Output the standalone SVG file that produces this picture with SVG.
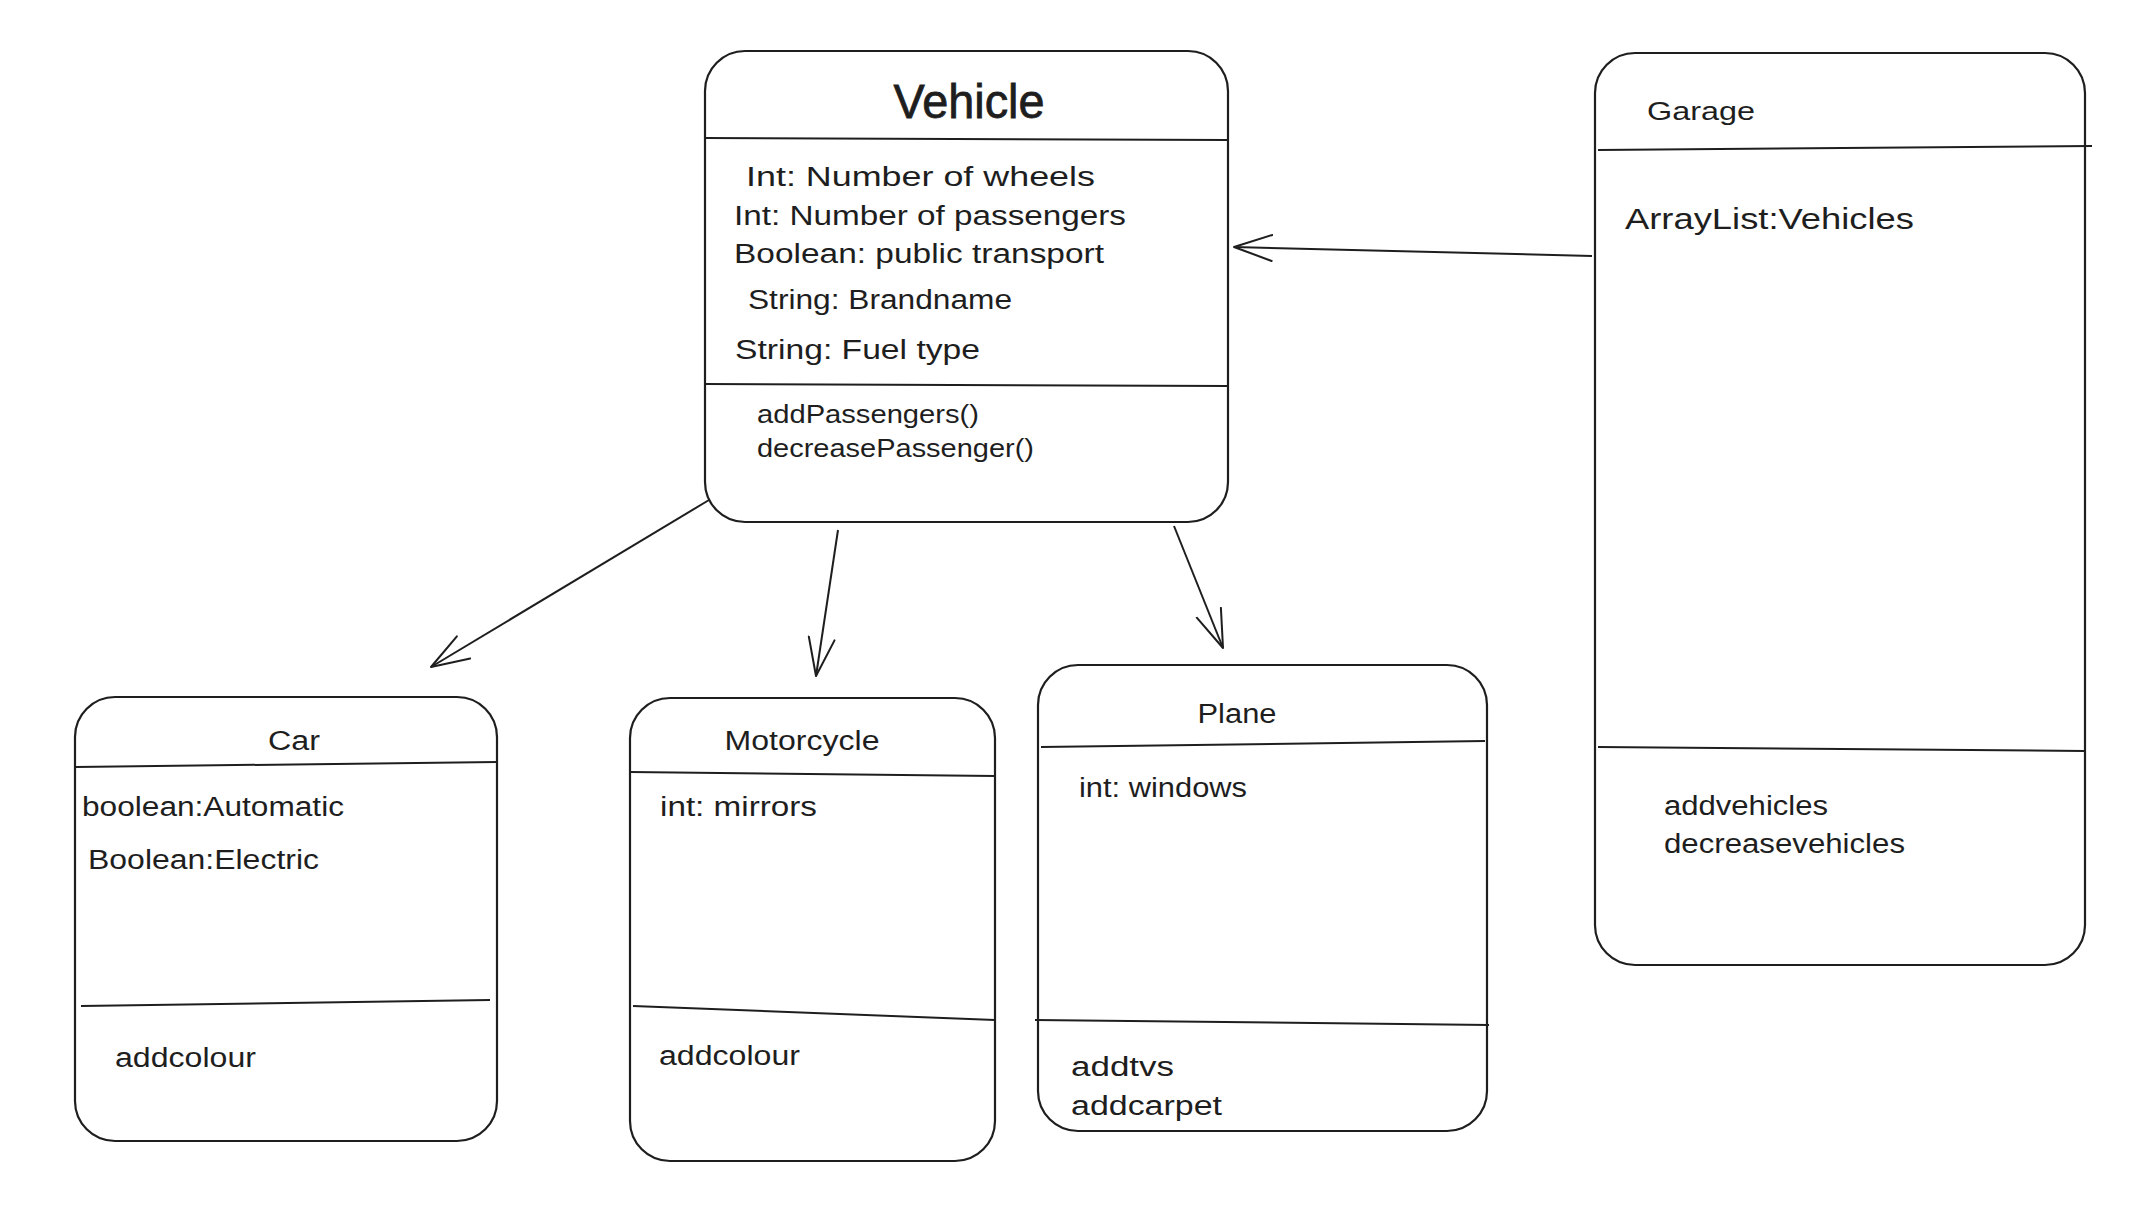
<svg xmlns="http://www.w3.org/2000/svg" width="2147" height="1224" viewBox="0 0 2147 1224">
  <defs>
    <style>
      .box { fill: #ffffff; stroke: #1e1e1e; stroke-width: 2.2; }
      .div { stroke: #1e1e1e; stroke-width: 2; fill: none; }
      .conn { stroke: #1e1e1e; stroke-width: 2; fill: none; }
      text { font-family: "Liberation Sans", "DejaVu Sans", sans-serif; fill: #1e1e1e; }
      .t { font-size: 27px; }
      .m { font-size: 26px; }
    </style>
    <marker id="arr" viewBox="0 0 40 30" refX="39" refY="15" markerWidth="40" markerHeight="30" markerUnits="userSpaceOnUse" orient="auto">
      <path d="M1,2 L39,15 L1,28" fill="none" stroke="#1e1e1e" stroke-width="2" stroke-linejoin="round" stroke-linecap="round"/>
    </marker>
  </defs>
  <rect width="2147" height="1224" fill="#ffffff"/>

  <g id="connectors">
    <path class="conn" d="M709,500 L431,667" marker-end="url(#arr)"/>
    <path class="conn" d="M838,530 L816,676" marker-end="url(#arr)"/>
    <path class="conn" d="M1174,526 L1223,648" marker-end="url(#arr)"/>
    <path class="conn" d="M1592,256 L1234,247" marker-end="url(#arr)"/>
  </g>

  <g id="vehicle">
    <rect class="box" x="705" y="51" width="523" height="471" rx="40"/>
    <line class="div" x1="705" y1="138" x2="1228" y2="140"/>
    <line class="div" x1="705" y1="384" x2="1228" y2="386"/>
    <text x="969" y="118" text-anchor="middle" font-size="48" stroke="#1e1e1e" stroke-width="0.8" textLength="151" lengthAdjust="spacingAndGlyphs">Vehicle</text>
    <text class="t" x="746" y="186" textLength="349" lengthAdjust="spacingAndGlyphs">Int: Number of wheels</text>
    <text class="t" x="734" y="225" textLength="392" lengthAdjust="spacingAndGlyphs">Int: Number of passengers</text>
    <text class="t" x="734" y="263" textLength="370" lengthAdjust="spacingAndGlyphs">Boolean: public transport</text>
    <text class="t" x="748" y="309" textLength="264" lengthAdjust="spacingAndGlyphs">String: Brandname</text>
    <text class="t" x="735" y="359" textLength="245" lengthAdjust="spacingAndGlyphs">String: Fuel type</text>
    <text class="m" x="757" y="423" textLength="222" lengthAdjust="spacingAndGlyphs">addPassengers()</text>
    <text class="m" x="757" y="457" textLength="277" lengthAdjust="spacingAndGlyphs">decreasePassenger()</text>
  </g>

  <g id="garage">
    <rect class="box" x="1595" y="53" width="490" height="912" rx="40"/>
    <line class="div" x1="1598" y1="150" x2="2092" y2="146"/>
    <line class="div" x1="1598" y1="747" x2="2085" y2="751"/>
    <text x="1647" y="120" font-size="26" textLength="108" lengthAdjust="spacingAndGlyphs">Garage</text>
    <text x="1625" y="229" font-size="30" textLength="289" lengthAdjust="spacingAndGlyphs">ArrayList:Vehicles</text>
    <text class="t" x="1664" y="815" textLength="164" lengthAdjust="spacingAndGlyphs">addvehicles</text>
    <text class="t" x="1664" y="853" textLength="241" lengthAdjust="spacingAndGlyphs">decreasevehicles</text>
  </g>

  <g id="car">
    <rect class="box" x="75" y="697" width="422" height="444" rx="40"/>
    <line class="div" x1="76" y1="767" x2="497" y2="762"/>
    <line class="div" x1="81" y1="1006" x2="490" y2="1000"/>
    <text x="294" y="750" text-anchor="middle" font-size="27" textLength="52" lengthAdjust="spacingAndGlyphs">Car</text>
    <text class="t" x="82" y="816" textLength="262" lengthAdjust="spacingAndGlyphs">boolean:Automatic</text>
    <text class="t" x="88" y="869" textLength="231" lengthAdjust="spacingAndGlyphs">Boolean:Electric</text>
    <text class="t" x="115" y="1067" textLength="141" lengthAdjust="spacingAndGlyphs">addcolour</text>
  </g>

  <g id="motorcycle">
    <rect class="box" x="630" y="698" width="365" height="463" rx="40"/>
    <line class="div" x1="630" y1="772" x2="995" y2="776"/>
    <line class="div" x1="633" y1="1006" x2="995" y2="1020"/>
    <text x="802" y="750" text-anchor="middle" font-size="27" textLength="155" lengthAdjust="spacingAndGlyphs">Motorcycle</text>
    <text class="t" x="660" y="816" textLength="157" lengthAdjust="spacingAndGlyphs">int: mirrors</text>
    <text class="t" x="659" y="1065" textLength="141" lengthAdjust="spacingAndGlyphs">addcolour</text>
  </g>

  <g id="plane">
    <rect class="box" x="1038" y="665" width="449" height="466" rx="40"/>
    <line class="div" x1="1041" y1="747" x2="1485" y2="741"/>
    <line class="div" x1="1035" y1="1020" x2="1489" y2="1025"/>
    <text x="1237" y="723" text-anchor="middle" font-size="27" textLength="79" lengthAdjust="spacingAndGlyphs">Plane</text>
    <text class="t" x="1079" y="797" textLength="168" lengthAdjust="spacingAndGlyphs">int: windows</text>
    <text class="t" x="1071" y="1076" textLength="103" lengthAdjust="spacingAndGlyphs">addtvs</text>
    <text class="t" x="1071" y="1115" textLength="151" lengthAdjust="spacingAndGlyphs">addcarpet</text>
  </g>
</svg>
